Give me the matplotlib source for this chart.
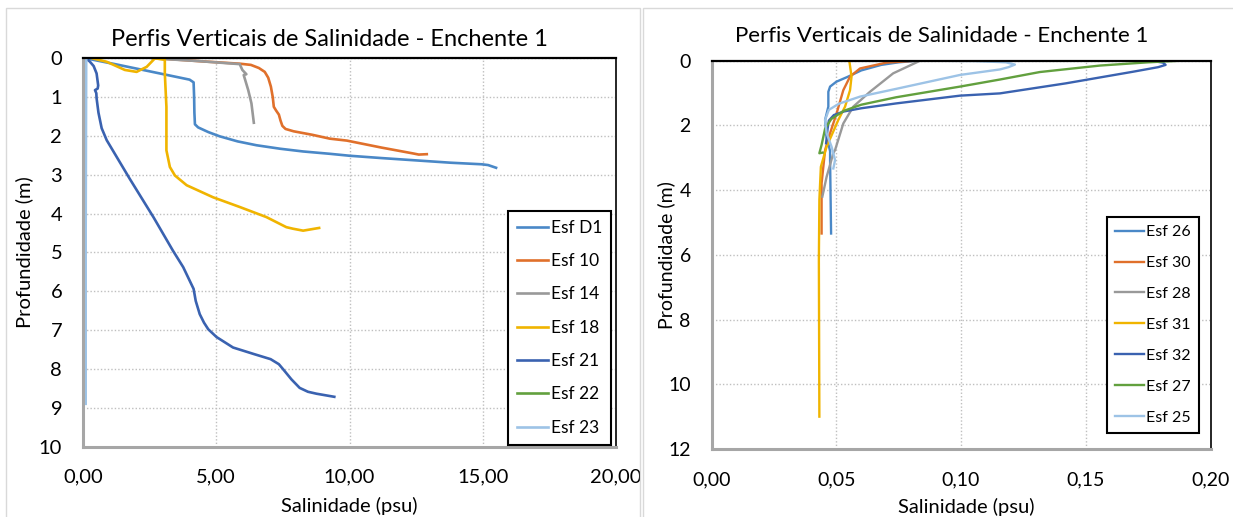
import matplotlib
matplotlib.use("Agg")
import matplotlib.pyplot as plt
from matplotlib.patches import Rectangle
from matplotlib.ticker import FuncFormatter, MultipleLocator

plt.rcParams['font.family'] = ['Lato', 'DejaVu Sans']

# ---- left chart: Esf D1 .. Esf 23 (salinity psu, depth m)
sal_d1 = [0.10, 1.20, 2.60, 4.00, 4.15, 4.17, 4.18, 4.20, 4.32, 4.70, 5.13, 5.80, 6.51, 7.40, 8.26, 9.26, 10.00, 11.20, 12.50, 13.80, 14.96, 15.20, 15.50]
dep_d1 = [0.00, 0.15, 0.35, 0.55, 0.62, 1.00, 1.40, 1.70, 1.78, 1.90, 2.01, 2.14, 2.24, 2.33, 2.40, 2.46, 2.51, 2.57, 2.63, 2.69, 2.73, 2.75, 2.82]

sal_10 = [2.80, 4.50, 5.90, 6.30, 6.60, 6.82, 6.95, 7.05, 7.12, 7.16, 7.25, 7.35, 7.41, 7.48, 7.60, 7.90, 8.60, 9.26, 9.90, 11.20, 12.38, 12.60, 12.90]
dep_10 = [0.00, 0.08, 0.14, 0.17, 0.25, 0.35, 0.50, 0.73, 1.00, 1.25, 1.35, 1.45, 1.60, 1.74, 1.82, 1.88, 1.97, 2.07, 2.12, 2.30, 2.45, 2.48, 2.47]

sal_14 = [2.60, 4.30, 5.88, 5.98, 6.13, 6.03, 6.20, 6.32, 6.41]
dep_14 = [0.00, 0.07, 0.15, 0.30, 0.41, 0.43, 0.82, 1.16, 1.66]

sal_18 = [0.35, 0.89, 1.57, 2.01, 2.39, 2.70, 3.07, 3.07, 3.13, 3.13, 3.26, 3.45, 3.89, 4.88, 5.88, 6.88, 7.63, 7.88, 8.26, 8.86]
dep_18 = [0.00, 0.09, 0.30, 0.35, 0.22, 0.00, 0.04, 0.39, 1.25, 2.37, 2.80, 3.02, 3.27, 3.58, 3.83, 4.09, 4.35, 4.39, 4.44, 4.37]

sal_21 = [0.10, 0.25, 0.40, 0.51, 0.57, 0.55, 0.45, 0.50, 0.51, 0.58, 0.70, 0.89, 1.75, 2.65, 3.37, 3.76, 4.15, 4.23, 4.38, 4.54, 4.70, 5.01, 5.63, 6.42, 7.04, 7.35, 7.51, 7.82, 8.13, 8.44, 8.76, 9.43]
dep_21 = [0.00, 0.08, 0.20, 0.39, 0.70, 0.78, 0.82, 0.90, 1.03, 1.40, 1.80, 2.11, 3.10, 4.10, 4.95, 5.38, 5.94, 6.25, 6.59, 6.81, 6.98, 7.18, 7.45, 7.62, 7.75, 7.88, 8.01, 8.27, 8.49, 8.59, 8.64, 8.72]

sal_22 = [0.06, 0.05, 0.05]
dep_22 = [0.00, 2.00, 4.10]

sal_23 = [0.12, 0.10, 0.10]
dep_23 = [0.00, 4.50, 8.90]

# ---- right chart: Esf 26 .. Esf 25
sal_26 = [0.0828, 0.0750, 0.0680, 0.0600, 0.0545, 0.0500, 0.0475, 0.0468, 0.0468, 0.0455, 0.0460, 0.0475, 0.0475, 0.0479]
dep_26 = [0.00, 0.05, 0.13, 0.30, 0.50, 0.65, 0.80, 0.96, 1.42, 1.83, 2.30, 2.80, 3.07, 5.34]

sal_30 = [0.0820, 0.0700, 0.0595, 0.0555, 0.0528, 0.0501, 0.0475, 0.0455, 0.0441, 0.0441]
dep_30 = [0.00, 0.06, 0.24, 0.49, 0.91, 1.63, 2.24, 2.76, 3.79, 5.34]

sal_28 = [0.0836, 0.0728, 0.0635, 0.0568, 0.0528, 0.0495, 0.0488, 0.0461, 0.0444]
dep_28 = [0.00, 0.39, 0.96, 1.42, 1.94, 2.76, 2.86, 3.59, 4.20]

sal_31 = [0.0552, 0.0561, 0.0555, 0.0535, 0.0508, 0.0461, 0.0438, 0.0432, 0.0430, 0.0432]
dep_31 = [0.00, 0.49, 0.91, 1.42, 1.83, 2.66, 3.28, 4.30, 6.16, 11.00]

sal_32 = [0.176, 0.181, 0.182, 0.179, 0.169, 0.142, 0.1156, 0.0996, 0.0740, 0.0600, 0.0530, 0.0490, 0.0470, 0.0465, 0.0459]
dep_32 = [0.00, 0.06, 0.13, 0.20, 0.34, 0.70, 1.01, 1.08, 1.32, 1.47, 1.57, 1.68, 1.85, 2.10, 2.55]

sal_27 = [0.188, 0.175, 0.1557, 0.1316, 0.1157, 0.0996, 0.0740, 0.0600, 0.0530, 0.0480, 0.0455, 0.0441, 0.0432, 0.0445]
dep_27 = [0.00, 0.05, 0.15, 0.35, 0.58, 0.80, 1.13, 1.36, 1.55, 1.80, 2.10, 2.60, 2.86, 2.84]

sal_25 = [0.085, 0.105, 0.118, 0.1216, 0.119, 0.1156, 0.0996, 0.0740, 0.0595, 0.0510, 0.0470, 0.0455, 0.0461, 0.0481, 0.0495, 0.0488]
dep_25 = [0.00, 0.01, 0.05, 0.12, 0.20, 0.27, 0.44, 0.87, 1.11, 1.33, 1.52, 1.83, 2.24, 2.66, 3.07, 3.33]

labels_left = ['Esf D1', 'Esf 10', 'Esf 14', 'Esf 18', 'Esf 21', 'Esf 22', 'Esf 23']
labels_right = ['Esf 26', 'Esf 30', 'Esf 28', 'Esf 31', 'Esf 32', 'Esf 27', 'Esf 25']
colors = ['#4A88C7', '#E0702B', '#999999', '#F0B400', '#3A62B0', '#62A03E', '#9DC3E6']

W, H = 1233, 517
fig = plt.figure(figsize=(W / 100, H / 100), dpi=100)

# chart area frames
fig.add_artist(Rectangle((6 / W, -0.01), 634 / W, 1 - 8 / H + 0.01, transform=fig.transFigure,
                         fill=False, edgecolor='#D9D9D9', lw=1))
fig.add_artist(Rectangle((643 / W, -0.01), 600 / W, 1 - 8 / H + 0.01, transform=fig.transFigure,
                         fill=False, edgecolor='#D9D9D9', lw=1))

ax1 = fig.add_axes([83 / W, 1 - 446.5 / H, 533 / W, 388.2 / H])
ax2 = fig.add_axes([711.6 / W, 1 - 449 / H, 498.9 / W, 388.3 / H])


def style(ax, fs):
    ax.grid(True, color='#BFBFBF', linestyle=(0, (1, 1.5)), lw=1)
    ax.set_axisbelow(True)
    ax.tick_params(length=0, labelsize=fs)
    ax.tick_params(axis='x', pad=16)
    ax.tick_params(axis='y', pad=15)
    ax.spines['top'].set_color('black')
    ax.spines['right'].set_color('#262626')
    ax.spines['top'].set_linewidth(1.6)
    ax.spines['right'].set_linewidth(1.4)
    ax.spines['left'].set_color('#A6A6A6')
    ax.spines['bottom'].set_color('#A6A6A6')
    ax.spines['left'].set_linewidth(2.2)
    ax.spines['bottom'].set_linewidth(2.2)


fmt = FuncFormatter(lambda v, p: f"{v:.2f}".replace('.', ','))

# left
left_sal = [sal_d1, sal_10, sal_14, sal_18, sal_21, sal_22, sal_23]
left_dep = [dep_d1, dep_10, dep_14, dep_18, dep_21, dep_22, dep_23]
for s, d, lab, c in zip(left_sal, left_dep, labels_left, colors):
    ax1.plot(s, d, color=c, lw=1.9, label=lab, solid_joinstyle='round')
ax1.set_xlim(0, 20)
ax1.set_ylim(10, 0)
ax1.xaxis.set_major_locator(MultipleLocator(5))
ax1.yaxis.set_major_locator(MultipleLocator(1))
ax1.xaxis.set_major_formatter(fmt)
style(ax1, 14.5)
ax1.set_xlabel('Salinidade (psu)', fontsize=14.5)
ax1.set_ylabel('Profundidade (m)', fontsize=14.5)
ax1.xaxis.set_label_coords(349.5 / W, 1 - 497 / H, transform=fig.transFigure)
ax1.yaxis.set_label_coords(33 / W, 1 - 252 / H, transform=fig.transFigure)
ax1.legend(loc='upper left', bbox_to_anchor=(508 / W, 1 - 211 / H), bbox_transform=fig.transFigure,
           fontsize=12.5, frameon=True, fancybox=False, framealpha=1, edgecolor='black',
           handlelength=1.8, handletextpad=0.15, labelspacing=1.0, borderpad=0.5, borderaxespad=0)
ax1.get_legend().get_frame().set_linewidth(1.5)
fig.text(329 / W, 1 - 40 / H, 'Perfis Verticais de Salinidade - Enchente 1', ha='center', va='center', fontsize=17)

# right
right_sal = [sal_26, sal_30, sal_28, sal_31, sal_32, sal_27, sal_25]
right_dep = [dep_26, dep_30, dep_28, dep_31, dep_32, dep_27, dep_25]
for s, d, lab, c in zip(right_sal, right_dep, labels_right, colors):
    ax2.plot(s, d, color=c, lw=1.7, label=lab, solid_joinstyle='round')
ax2.set_xlim(0, 0.2)
ax2.set_ylim(12, 0)
ax2.xaxis.set_major_locator(MultipleLocator(0.05))
ax2.yaxis.set_major_locator(MultipleLocator(2))
ax2.xaxis.set_major_formatter(fmt)
style(ax2, 14)
ax2.set_xlabel('Salinidade (psu)', fontsize=14.5)
ax2.set_ylabel('Profundidade (m)', fontsize=14)
ax2.xaxis.set_label_coords(966 / W, 1 - 498 / H, transform=fig.transFigure)
ax2.yaxis.set_label_coords(675 / W, 1 - 255 / H, transform=fig.transFigure)
ax2.legend(loc='upper left', bbox_to_anchor=(1107 / W, 1 - 217 / H), bbox_transform=fig.transFigure,
           fontsize=11.5, frameon=True, fancybox=False, framealpha=1, edgecolor='black',
           handlelength=1.8, handletextpad=0.15, labelspacing=1.05, borderpad=0.5, borderaxespad=0)
ax2.get_legend().get_frame().set_linewidth(1.5)
fig.text(942 / W, 1 - 36 / H, 'Perfis Verticais de Salinidade - Enchente 1', ha='center', va='center', fontsize=16)

fig.savefig('out.png', dpi=100)
